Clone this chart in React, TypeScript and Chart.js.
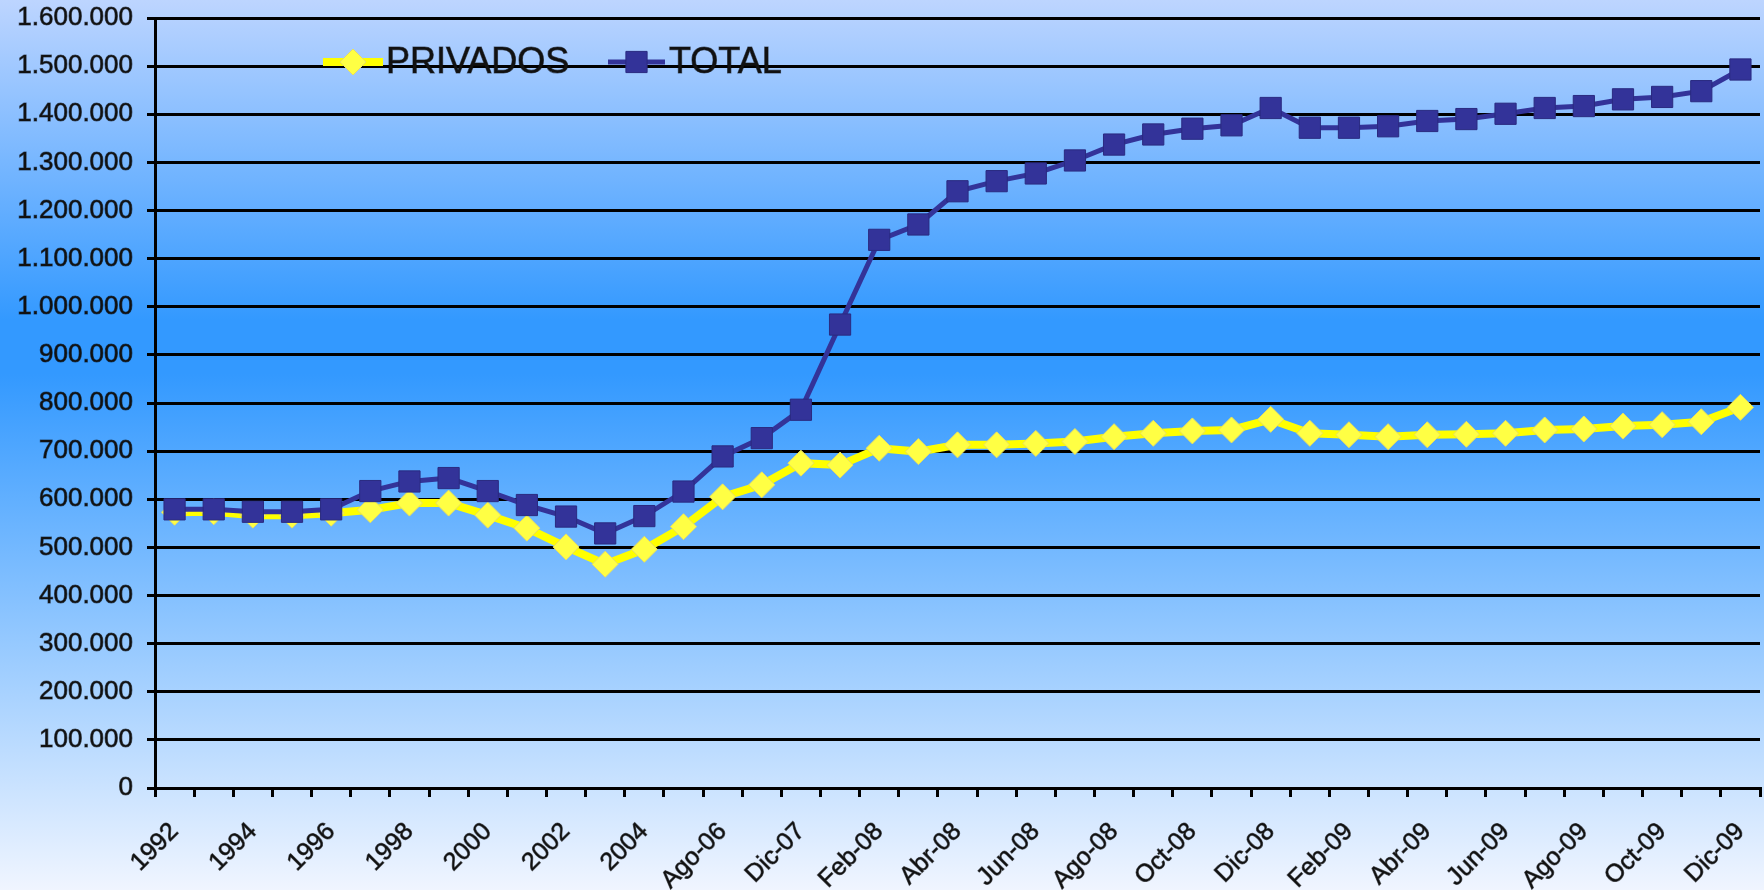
import React, { useEffect, useRef } from 'react';
import { Chart, registerables } from 'chart.js';

Chart.register(...registerables);

const categories = [
  '1992', '1993', '1994', '1995', '1996', '1997', '1998', '1999', '2000', '2001',
  '2002', '2003', '2004', '2005', 'Ago-06', 'Dic-06', 'Dic-07', 'Ene-08', 'Feb-08', 'Mar-08',
  'Abr-08', 'May-08', 'Jun-08', 'Jul-08', 'Ago-08', 'Sep-08', 'Oct-08', 'Nov-08', 'Dic-08', 'Ene-09',
  'Feb-09', 'Mar-09', 'Abr-09', 'May-09', 'Jun-09', 'Jul-09', 'Ago-09', 'Sep-09', 'Oct-09', 'Nov-09',
  'Dic-09',
];

const privados = [
  573000, 574000, 567000, 567000, 571000, 578000, 592000, 592000, 567000, 540000,
  501000, 465000, 496000, 543000, 605000, 630000, 675000, 671000, 706000, 699000,
  713000, 713000, 716000, 720000, 730000, 737000, 742000, 744000, 766000, 737000,
  734000, 730000, 734000, 735000, 737000, 744000, 746000, 752000, 755000, 761000,
  791000,
];

const total = [
  579000, 579000, 574000, 574000, 579000, 617000, 637000, 644000, 617000, 588000,
  564000, 529000, 565000, 616000, 689000, 727000, 786000, 963000, 1139000, 1171000,
  1240000, 1261000, 1277000, 1304000, 1337000, 1358000, 1370000, 1377000, 1413000, 1372000,
  1372000, 1375000, 1386000, 1390000, 1401000, 1413000, 1417000, 1431000, 1436000, 1448000,
  1493000,
];

const seriesNames = ['PRIVADOS', 'TOTAL'];
const yMin = 0;
const yMax = 1600000;
const yStep = 100000;

const FONT = "'Liberation Sans', Arial, Helvetica, sans-serif";

const fmt = (v: number) => String(Math.round(v)).replace(/\B(?=(\d{3})+(?!\d))/g, '.');

const bgPlugin = {
  id: 'bgGradient',
  beforeDraw(chart: any) {
    const { ctx, width, height } = chart;
    const g = ctx.createLinearGradient(0, 0, 0, height);
    g.addColorStop(0, '#bdd5ff');
    g.addColorStop(0.36, '#3399ff');
    g.addColorStop(0.42, '#3399ff');
    g.addColorStop(1, '#f0f5ff');
    ctx.save();
    ctx.fillStyle = g;
    ctx.fillRect(0, 0, width, height);
    ctx.restore();
  },
};

const legendPlugin = {
  id: 'insideLegend',
  afterDraw(chart: any) {
    const { ctx } = chart;
    const y = 62;
    const items = [
      { ds: 0, x0: 323, x1: 383, tx: 386 },
      { ds: 1, x0: 608, x1: 665, tx: 669 },
    ];
    ctx.save();
    items.forEach((it) => {
      const ds = chart.data.datasets[it.ds];
      ctx.strokeStyle = ds.borderColor;
      ctx.lineWidth = ds.borderWidth;
      ctx.beginPath();
      ctx.moveTo(it.x0, y);
      ctx.lineTo(it.x1, y);
      ctx.stroke();
      const cx = (it.x0 + it.x1) / 2;
      const r = ds.pointRadius;
      ctx.fillStyle = ds.pointBackgroundColor;
      ctx.strokeStyle = ds.pointBorderColor;
      ctx.lineWidth = ds.pointBorderWidth;
      ctx.beginPath();
      if (ds.pointStyle === 'rectRot') {
        ctx.moveTo(cx - r, y);
        ctx.lineTo(cx, y - r);
        ctx.lineTo(cx + r, y);
        ctx.lineTo(cx, y + r);
        ctx.closePath();
      } else {
        const s = r * Math.SQRT1_2;
        ctx.rect(cx - s, y - s, 2 * s, 2 * s);
      }
      ctx.fill();
      ctx.stroke();
      ctx.font = `36px ${FONT}`;
      ctx.textAlign = 'left';
      ctx.textBaseline = 'middle';
      ctx.strokeStyle = 'rgba(0,0,0,0.55)';
      ctx.lineWidth = 1;
      ctx.strokeText(ds.label, it.tx, y + 1);
      ctx.fillStyle = '#111';
      ctx.fillText(ds.label, it.tx, y + 1);
    });
    ctx.restore();
  },
};

export default function App() {
  const ref = useRef<HTMLCanvasElement>(null);

  useEffect(() => {
    if (!ref.current) return;
    const chart = new Chart(ref.current, {
      type: 'line',
      data: {
        labels: categories,
        datasets: [
          {
            label: seriesNames[0],
            data: privados,
            borderColor: '#ffff00',
            borderWidth: 8,
            pointStyle: 'rectRot',
            pointRadius: 13,
            pointBackgroundColor: '#ffff44',
            pointBorderColor: '#e8df60',
            pointBorderWidth: 1,
            tension: 0,
            order: 1,
          },
          {
            label: seriesNames[1],
            data: total,
            borderColor: '#333399',
            borderWidth: 5,
            pointStyle: 'rect',
            pointRadius: 15,
            pointBackgroundColor: '#333399',
            pointBorderColor: '#2a2a80',
            pointBorderWidth: 1,
            tension: 0,
            order: 0,
          },
        ],
      },
      options: {
        responsive: false,
        animation: false,
        layout: { autoPadding: false, padding: { top: 18, right: 4, left: 0, bottom: 0 } },
        plugins: {
          legend: { display: false },
          tooltip: { enabled: false },
        },
        scales: {
          x: {
            offset: true,
            grid: {
              offset: true,
              drawOnChartArea: false,
              drawTicks: true,
              color: '#000',
              lineWidth: 3,
              tickLength: 9,
            },
            border: { color: '#000', width: 3 },
            ticks: {
              autoSkip: false,
              maxRotation: 45,
              minRotation: 45,
              padding: 20,
              color: '#111',
              textStrokeColor: 'rgba(0,0,0,0.55)',
              textStrokeWidth: 1,
              font: { family: FONT, size: 25 },
              callback: (_v: any, i: number) => (i % 2 === 0 ? categories[i] : ''),
            },
            afterFit: (s: any) => {
              s.height = 102;
              s.paddingLeft = 0;
              s.paddingRight = 0;
            },
          },
          y: {
            min: yMin,
            max: yMax,
            ticks: {
              stepSize: yStep,
              padding: 14,
              color: '#111',
              textStrokeColor: 'rgba(0,0,0,0.55)',
              textStrokeWidth: 1,
              font: { family: FONT, size: 26 },
              callback: (v: any) => fmt(Number(v)),
            },
            grid: { color: '#000', lineWidth: 3, tickLength: 8 },
            border: { color: '#000', width: 3 },
            afterFit: (s: any) => {
              s.width = 155;
              s.paddingTop = 0;
              s.paddingBottom = 0;
            },
          },
        },
      },
      plugins: [bgPlugin, legendPlugin],
    });
    return () => chart.destroy();
  }, []);

  return (
    <div style={{ position: 'absolute', left: 0, top: 0, width: 1764, height: 890 }}>
      <canvas ref={ref} width={1764} height={890} />
    </div>
  );
}
